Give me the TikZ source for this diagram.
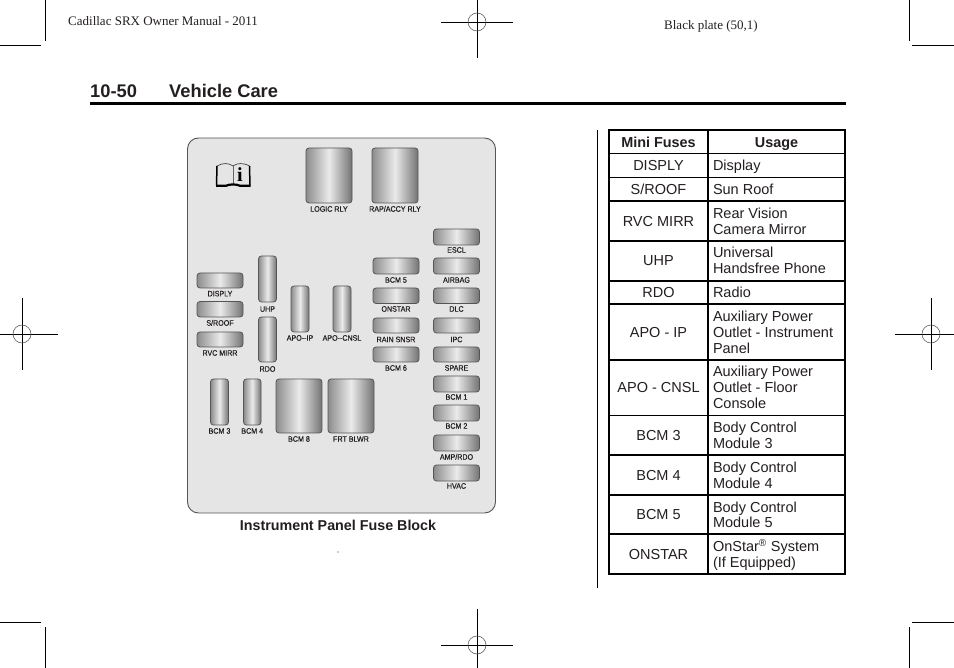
\documentclass[tikz,border=0pt]{standalone}
\usepackage{fontspec}
\setmainfont{Liberation Sans}
\newfontfamily\serifface{Liberation Serif}
\newfontfamily\labelface[FakeStretch=0.9,FakeBold=0.35]{Liberation Sans}
\definecolor{ink}{HTML}{231F20}
\definecolor{panelfill}{HTML}{E5E5E5}
\definecolor{panelline}{HTML}{555555}
\newcommand{\fusebox}[6]{%
  \node[fuseshape,minimum width={(#4-#2)*1pt},minimum height={(#5-#3)*1pt}] (#1) at ({(#2+#4)/2},{(#3+#5)/2}) {};
  \node[fuselabel] (#1-label) at ({(#2+#4)/2},#6+2.7) {#1};}
\newcommand{\crossmark}[2]{%
  \draw[crop] (#1-36,#2) -- (#1+36,#2);
  \draw[crop] (#1,#2-36) -- (#1,#2+36);
  \draw[crop,line width=0.5pt,black!70] (#1,#2) circle (9);}
\newcommand{\lc}[2]{\node[leftcol] at (658.5,#1) {#2};}
\newcommand{\rc}[2]{\node[rightcol] at (713,#1) {#2};}
\tikzset{
  x=1pt,y=-1pt,
  crop/.style={line width=0.9pt,black},
  fuseshape/.style={draw=panelline,line width=0.8pt,rounded corners=3pt,inner sep=0pt,outer sep=0pt,
    left color=black!45,right color=black!55,middle color=black!8},
  fuselabel/.style={font=\labelface\fontsize{7.9}{9}\selectfont,text=ink,inner sep=0pt,anchor=base},
  tabletext/.style={font=\fontsize{14.5}{16}\selectfont,text=ink,inner sep=0pt,outer sep=0pt},
  leftcol/.style={tabletext,anchor=base},
  rightcol/.style={tabletext,anchor=base west},
  headcell/.style={tabletext,font=\bfseries\fontsize{14.4}{16}\selectfont,anchor=base},
  tableline/.style={line width=1.5pt,black},
}
\begin{document}
\begin{tikzpicture}
\useasboundingbox[fill=white] (0,0) rectangle (954,668);
% crop marks
\draw[crop] (45,0) -- (45,41);
\draw[crop] (0,45) -- (41,45);
\draw[crop] (909,0) -- (909,41);
\draw[crop] (912,45) -- (954,45);
\draw[crop] (45,627) -- (45,668);
\draw[crop] (0,622) -- (41,622);
\draw[crop] (909,627) -- (909,668);
\draw[crop] (912,622) -- (954,622);
\crossmark{477}{22}
\crossmark{477}{645}
\crossmark{22}{334}
\crossmark{931}{334}
% header
\node[anchor=base west,inner sep=0pt,text=ink,font=\serifface\fontsize{13}{15}\selectfont] (manual) at (68,26) {Cadillac SRX Owner Manual - 2011};
\node[anchor=base west,inner sep=0pt,text=ink,font=\serifface\fontsize{13}{15}\selectfont] (plate) at (664,29.5) {Black plate (50,1)};
\node[anchor=base west,inner sep=0pt,text=ink,font=\bfseries\fontsize{18.3}{20}\selectfont] (page) at (90,97.5) {10-50};
\node[anchor=base west,inner sep=0pt,text=ink,font=\bfseries\fontsize{18.3}{20}\selectfont] (title) at (169,97.5) {Vehicle Care};
\fill[black] (90,102) rectangle (846,105);
% panel
\draw[fill=panelfill,draw=panelline,line width=0.9pt,rounded corners=11pt] (187.5,138) rectangle (495.5,513);
% book icon
\draw[black!75,line width=0.7pt,line join=round] (217,166) .. controls (223,162.5) and (229,163) .. (233,166) .. controls (237,163) and (243,162.5) .. (249.5,166);
\draw[black!60,line width=0.7pt] (233,166) -- (233,184);
\draw[black,line width=1.5pt] (217,166) -- (216.5,185.5) (249.5,166) -- (250,185.5);
\draw[black,line width=2.2pt] (216,185.8) -- (226,185.8) .. controls (229,184) and (237,184) .. (240,185.8) -- (250.5,185.8);
\node[inner sep=0pt,font=\bfseries\fontsize{20}{20}\selectfont\serifface,text=black] (infoi) at (240,175) {i};
% fuses
\fusebox{LOGIC RLY}{306}{148}{352}{203}{209}
\fusebox{RAP/ACCY RLY}{372}{148}{418}{203}{209}
\fusebox{DISPLY}{197}{273}{243}{288}{293.7}
\fusebox{S/ROOF}{197}{301.5}{243}{317}{323}
\fusebox{RVC MIRR}{197}{332}{243}{347}{353}
\fusebox{UHP}{258.5}{256}{276.5}{302}{309}
\fusebox{RDO}{258.5}{317}{276.5}{362}{369}
\fusebox{APO--IP}{291}{286}{309}{332}{338}
\fusebox{APO--CNSL}{333}{286}{351}{332}{338}
\fusebox{BCM 3}{210.5}{379}{228.5}{425}{431}
\fusebox{BCM 4}{243.5}{379}{261}{425}{431}
\fusebox{BCM 8}{276}{379}{322}{433}{439}
\fusebox{FRT BLWR}{328}{379}{374}{433}{439}
\fusebox{BCM 5}{373}{258}{419}{274}{280}
\fusebox{ONSTAR}{373}{288}{419}{303.5}{309}
\fusebox{RAIN SNSR}{373}{318}{419}{333}{339.5}
\fusebox{BCM 6}{373}{347}{419}{362}{368}
\fusebox{ESCL}{433.5}{229}{479.5}{245}{250}
\fusebox{AIRBAG}{433.5}{258}{479.5}{274}{280}
\fusebox{DLC}{433.5}{288}{479.5}{303.5}{309}
\fusebox{IPC}{433.5}{318}{479.5}{333}{339.5}
\fusebox{SPARE}{433.5}{347}{479.5}{362}{368}
\fusebox{BCM 1}{433.5}{376}{479.5}{392}{397}
\fusebox{BCM 2}{433.5}{405}{479.5}{421}{426}
\fusebox{AMP/RDO}{433.5}{435}{479.5}{451}{457}
\fusebox{HVAC}{433.5}{465}{479.5}{481}{486}
\node[inner sep=0pt,text=ink,font=\bfseries\fontsize{14.3}{16}\selectfont,anchor=base] (caption) at (338,530) {Instrument Panel Fuse Block};
\fill[black!80] (338,552) circle (0.6);
% table
\draw[line width=0.9pt,black] (597.5,130) -- (597.5,588);
\draw[tableline] (609,130) rectangle (845,574);
\draw[tableline] (708,130) -- (708,574);
\foreach \y in {153.5,177.5,201,241,281,304,360,415.5,455,495,534}
  \draw[tableline] (609,\y) -- (845,\y);
\node[headcell] (h1) at (658.5,147.5) {Mini Fuses};
\node[headcell] (h2) at (776.5,147.5) {Usage};
\lc{171}{DISPLY}\rc{171}{Display}
\lc{195}{S/ROOF}\rc{195}{Sun Roof}
\lc{227}{RVC MIRR}\rc{219}{Rear Vision}\rc{235}{Camera Mirror}
\lc{266}{UHP}\rc{258}{Universal}\rc{274}{Handsfree Phone}
\lc{298}{RDO}\rc{298}{Radio}
\lc{338}{APO - IP}\rc{322}{Auxiliary Power}\rc{338}{Outlet - Instrument}\rc{354}{Panel}
\lc{393}{APO - CNSL}\rc{377}{Auxiliary Power}\rc{393}{Outlet - Floor}\rc{409}{Console}
\lc{441}{BCM 3}\rc{432.5}{Body Control}\rc{448.5}{Module 3}
\lc{480.5}{BCM 4}\rc{472}{Body Control}\rc{488}{Module 4}
\lc{519.5}{BCM 5}\rc{512}{Body Control}\rc{527.5}{Module 5}
\lc{559}{ONSTAR}\rc{551.5}{OnStar\textsuperscript{\fontsize{10}{10}\selectfont ®} System}\rc{567.5}{(If Equipped)}
\end{tikzpicture}
\end{document}
